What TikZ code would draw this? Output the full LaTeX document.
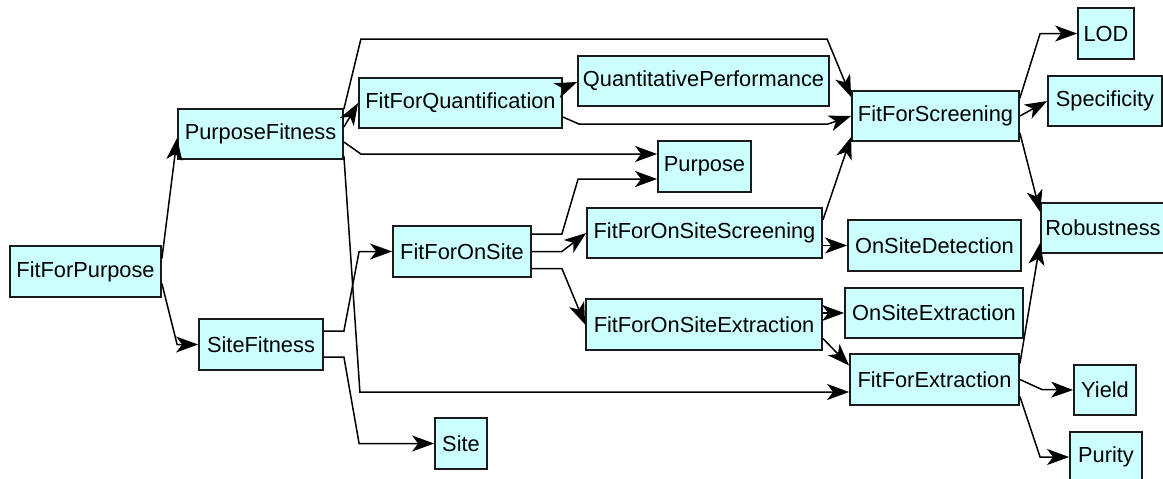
\documentclass[tikz,border=0pt]{standalone}
\usepackage{fontspec}
\setmainfont{Liberation Sans}
\usetikzlibrary{arrows.meta,calc}
\definecolor{boxfill}{HTML}{CCFFFF}
\definecolor{boxline}{HTML}{1A1A1A}
\tikzset{headtip/.tip={Stealth[length=22pt,width=16pt,inset=6pt]}}
\begin{document}
\begin{tikzpicture}[x=1pt,y=-1pt,
  bx/.style={draw=boxline,line width=1.8pt,fill=boxfill,inner sep=0pt,
    font=\fontsize{21.8}{25}\selectfont,anchor=center},
  arr/.style={draw=black,line width=1.5pt,line join=miter,-headtip}]
\useasboundingbox (0,0) rectangle (1163,479);
\begin{scope}
\clip (0,0) rectangle (1163,479);
\node[bx,minimum width=151pt,minimum height=51pt] (FFP) at (85.5,271.5) {FitForPurpose};
\node[bx,minimum width=165pt,minimum height=50pt] (PF) at (260.5,134) {PurposeFitness};
\node[bx,minimum width=124pt,minimum height=51pt] (SF) at (261,344.5) {SiteFitness};
\node[bx,minimum width=52pt,minimum height=51pt] (Site) at (461,443.5) {Site};
\node[bx,minimum width=138pt,minimum height=51pt] (FOS) at (462,251.5) {FitForOnSite};
\node[bx,minimum width=203pt,minimum height=50pt] (FFQ) at (460.5,103) {FitForQuantification};
\node[bx,minimum width=251pt,minimum height=50pt] (QP) at (703.5,81) {QuantitativePerformance};
\node[bx,minimum width=93pt,minimum height=51pt] (Pur) at (704.5,166.5) {Purpose};
\node[bx,minimum width=235pt,minimum height=50pt] (FOSS) at (704.5,233) {FitForOnSiteScreening};
\node[bx,minimum width=236pt,minimum height=51pt] (FOSE) at (704,324.5) {FitForOnSiteExtraction};
\node[bx,minimum width=173pt,minimum height=51pt] (OSD) at (934.5,245.5) {OnSiteDetection};
\node[bx,minimum width=178pt,minimum height=50pt] (OSE) at (934,313) {OnSiteExtraction};
\node[bx,minimum width=169pt,minimum height=51pt] (FFE) at (934.5,379.5) {FitForExtraction};
\node[bx,minimum width=62pt,minimum height=50pt] (Yield) at (1105,390) {Yield};
\node[bx,minimum width=72pt,minimum height=50pt] (Purity) at (1106,457) {Purity};
\node[bx,minimum width=167pt,minimum height=50pt] (FFS) at (935.5,116) {FitForScreening};
\node[bx,minimum width=56pt,minimum height=51pt] (LOD) at (1106,33.5) {LOD};
\node[bx,minimum width=114pt,minimum height=50pt] (Spec) at (1105,101) {Specificity};
\node[bx,minimum width=124pt,minimum height=50pt] (Rob) at (1103,228) {Robustness};
\end{scope}
% connectors
\draw[arr] ($(FFP.east)+(0,-13)$) -- ($(PF.west)+(0,4)$);
\draw[arr] ($(FFP.east)+(0,12)$) -- ($(SF.west)+(-21,0)$) -- (SF.west);
\draw[arr] ($(PF.east)+(0,-7)$) -- (FFQ.west);
\draw[arr] ($(PF.east)+(0,-25)$) -- ++(17,-70) -- ($(FFS.west)+(-24,-77)$) -- ($(FFS.west)+(0,-19)$);
\draw[arr] ($(PF.east)+(0,8)$) -- ++(17,12) -- ($(Pur.west)+(0,-12.5)$);
\draw[arr] ($(PF.east)+(0,22)$) -- ++(16,236) -- ($(FFE.west)+(0,12.5)$);
\draw[arr] ($(SF.east)+(0,-13.5)$) -- ++(20,0) -- ($(FOS.west)+(-33,0)$) -- (FOS.west);
\draw[arr] ($(SF.east)+(0,12.5)$) -- ++(20,0) -- ($(Site.west)+(-75,0)$) -- (Site.west);
\draw[arr] ($(FFQ.east)+(0,-15)$) -- ($(QP.west)+(0,1)$);
\draw[arr] ($(FFQ.east)+(0,14)$) -- ++(16,7) -- ($(FFS.west)+(-23,8)$) -- (FFS.west);
\draw[arr] ($(FOS.east)+(0,-17.5)$) -- ++(30,0) -- ($(Pur.west)+(-79,12.5)$) -- ($(Pur.west)+(0,12.5)$);
\draw[arr] (FOS.east) -- ++(30,0) -- (FOSS.west);
\draw[arr] ($(FOS.east)+(0,17)$) -- ++(30,0) -- (FOSE.west);
\draw[arr] ($(FOSS.east)+(0,-13)$) -- ($(FFS.west)+(0,21)$);
\draw[arr] (FOSS.east |- OSD.west) -- (OSD.west);
\draw[arr] (FOSE.east |- OSE.west) -- (OSE.west);
\draw[arr] ($(FOSE.east)+(0,14)$) -- ($(FFE.west)+(0,-14)$);
\draw[arr] ($(FFS.east)+(0,-18)$) -- ($(LOD.west)+(-37,0)$) -- (LOD.west);
\draw[arr] (FFS.east) -- (Spec.west);
\draw[arr] ($(FFS.east)+(0,17)$) -- ($(Rob.west)+(0,-16)$);
\draw[arr] ($(FFE.east)+(0,-16)$) -- ($(Rob.west)+(0,15)$);
\draw[arr] (FFE.east) -- ++(22,10) -- (Yield.west);
\draw[arr] ($(FFE.east)+(0,17)$) -- ($(Purity.west)+(-29,0)$) -- (Purity.west);
\end{tikzpicture}
\end{document}
